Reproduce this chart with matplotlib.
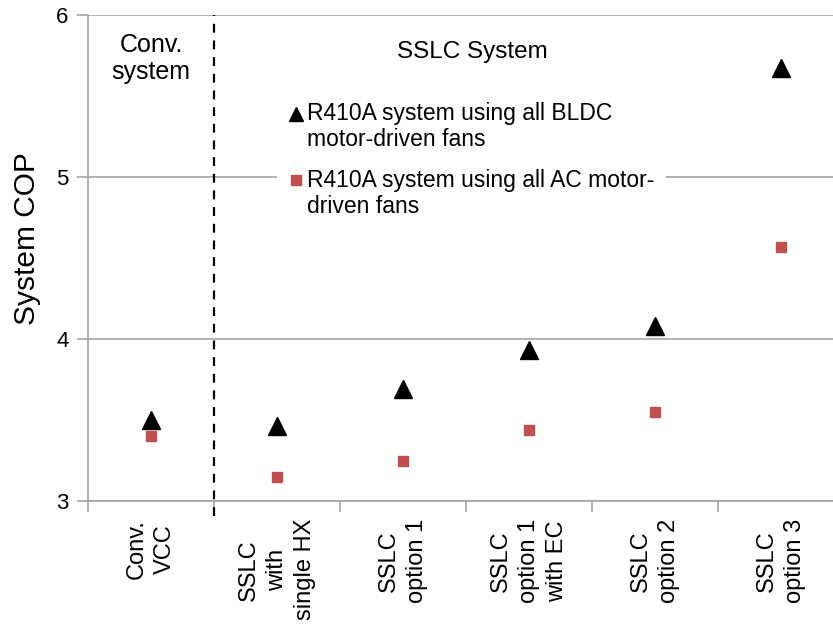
import matplotlib
matplotlib.use("Agg")
import matplotlib.pyplot as plt
from matplotlib.legend_handler import HandlerLine2D
import numpy as np

plt.rcParams["font.family"] = ["Liberation Sans", "DejaVu Sans"]

categories = ["Conv.\nVCC", "SSLC\nwith\nsingle HX", "SSLC\noption 1",
              "SSLC\noption 1\nwith EC", "SSLC\noption 2", "SSLC\noption 3"]
cop_bldc = [3.50, 3.46, 3.69, 3.93, 4.08, 5.67]
cop_ac = [3.40, 3.15, 3.25, 3.44, 3.55, 4.57]
label_bldc = "R410A system using all BLDC\nmotor-driven fans"
label_ac = "R410A system using all AC motor-\ndriven fans"

grey = "#a6a6a6"
red = "#c0504d"


class FirstLineHandler(HandlerLine2D):
    # put the legend marker next to the first text line, like Excel does
    def __init__(self, ms, shift, **kw):
        super().__init__(**kw)
        self.ms = ms
        self.shift = shift

    def create_artists(self, legend, orig_handle, xdescent, ydescent, width,
                       height, fontsize, trans):
        arts = super().create_artists(legend, orig_handle, xdescent, ydescent,
                                      width, height, fontsize, trans)
        for a in arts:
            a.set_ydata(np.asarray(a.get_ydata()) + self.shift)
            a.set_markersize(self.ms)
        return arts


fig = plt.figure(figsize=(8.33, 6.25), dpi=100)
ax = fig.add_axes([88 / 833, 1 - 501 / 625, 1 - 88 / 833, (501 - 15) / 625])

x = np.arange(len(categories))
h1, = ax.plot(x, cop_bldc, linestyle="none", marker="^", ms=13, color="black",
              label=label_bldc, zorder=4)
h2, = ax.plot(x, cop_ac, linestyle="none", marker="s", ms=7.5, color=red,
              label=label_ac, zorder=4)

ax.set_ylim(3, 6)
ax.set_xlim(-0.5, -0.5 + (833 - 88) / 126)
ax.set_yticks([3, 4, 5, 6])
ax.yaxis.grid(True, color=grey, linewidth=1.2)
ax.set_axisbelow(True)

ax.set_xticks(x)
ax.set_xticklabels(categories, rotation=90, va="top", ha="center",
                   multialignment="center", fontsize=17, linespacing=1.35)
ax.set_xticks(np.arange(-0.5, len(categories) - 0.5, 1), minor=True)
ax.tick_params(axis="x", which="major", length=0, pad=13)
ax.tick_params(axis="x", which="minor", length=8, color=grey, width=1.2)
ax.tick_params(axis="y", length=8, color=grey, width=1.2, labelsize=16, pad=6)

for s in ["top", "right"]:
    ax.spines[s].set_visible(False)
for s in ["left", "bottom"]:
    ax.spines[s].set_color(grey)
    ax.spines[s].set_linewidth(1.2)

ax.set_ylabel("System COP", fontsize=21.5)
ax.yaxis.set_label_coords(-0.063, 0.541)

# divider between conventional and SSLC groups
ax.plot([0.5, 0.5], [2.91, 6], color="black", linestyle=(0, (4, 3.5)),
        linewidth=1.6, clip_on=False, zorder=3)

ax.text(0, 5.89, "Conv.\nsystem", ha="center", va="top", fontsize=18,
        linespacing=1.15)
ax.text(2.55, 5.84, "SSLC System", ha="center", va="top", fontsize=17.5)

leg = ax.legend(handles=[h1, h2], loc="upper left",
                bbox_to_anchor=(277 / 833, 1 - 91 / 625),
                bbox_transform=fig.transFigure, fontsize=16.5, frameon=True,
                facecolor="white", edgecolor="none", framealpha=1,
                borderaxespad=0, handlelength=0.7, handletextpad=0.13,
                labelspacing=0.78, borderpad=0.5,
                handler_map={h1: FirstLineHandler(9.5, 10.0),
                             h2: FirstLineHandler(6.7, 10.0)})
for t in leg.get_texts():
    t.set_linespacing(1.15)

fig.savefig("out.png", dpi=100)
